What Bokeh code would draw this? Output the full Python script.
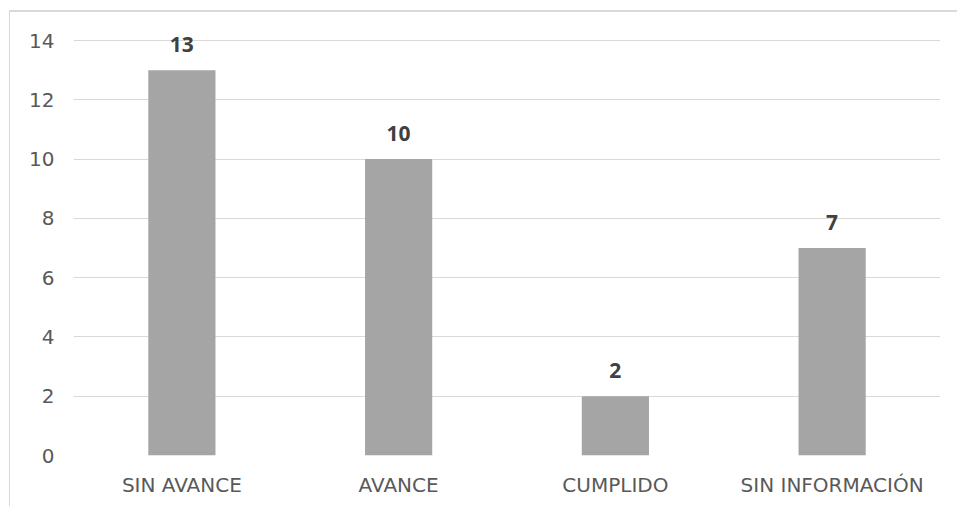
from bokeh.plotting import figure
from bokeh.models import ColumnDataSource, Range1d, FactorRange, FixedTicker, LabelSet
from bokeh.core.properties import value
from bokeh.embed import file_html
from bokeh.resources import INLINE

categories = ["SIN AVANCE", "AVANCE", "CUMPLIDO", "SIN INFORMACIÓN"]
counts = [13, 10, 2, 7]
y_ticks = [0, 2, 4, 6, 8, 10, 12, 14]

FONT = "DejaVu Sans"
src = ColumnDataSource(dict(cat=categories, val=counts, lbl=[str(v) for v in counts]))

# frame extends above the top gridline (14) so the value label above the tallest bar is not clipped
H, BOTTOM, PLOT_PX = 496, 53, 415
y_end = 14 * (H - BOTTOM) / PLOT_PX

p = figure(x_range=FactorRange(*categories, range_padding=0), y_range=Range1d(0, y_end),
           width=948, height=H, output_backend="svg", toolbar_location=None,
           min_border_left=63, min_border_right=18, min_border_top=0, min_border_bottom=BOTTOM)
p.styles = {"border-left": "1px solid #d9d9d9", "border-top": "2px solid #d9d9d9",
            "margin-left": "9px", "margin-top": "10px"}

p.vbar(x="cat", top="val", width=0.31, source=src, fill_color="#a5a5a5", line_color=None)
labels = LabelSet(x="cat", y="val", text="lbl", source=src, text_align="center",
                  text_baseline="alphabetic", y_offset=18, text_font=value("Open Sans"),
                  text_font_style="bold", text_font_size="21px", text_color="#404040")
p.add_layout(labels)

p.outline_line_color = None
p.background_fill_color = "white"
p.border_fill_color = "white"

p.yaxis.ticker = FixedTicker(ticks=y_ticks)
p.ygrid.ticker = FixedTicker(ticks=y_ticks)
p.ygrid.grid_line_color = "#d9d9d9"
p.ygrid.grid_line_width = 1
p.xgrid.grid_line_color = None

for ax in (p.xaxis[0], p.yaxis[0]):
    ax.axis_line_color = None
    ax.major_tick_line_color = None
    ax.minor_tick_line_color = None
    ax.major_label_text_font = FONT
    ax.major_label_text_font_size = "20px"
    ax.major_label_text_color = "#595959"
p.yaxis.major_label_standoff = 13
p.xaxis.major_label_standoff = 11

open("out.html", "w").write(file_html(p, INLINE))
